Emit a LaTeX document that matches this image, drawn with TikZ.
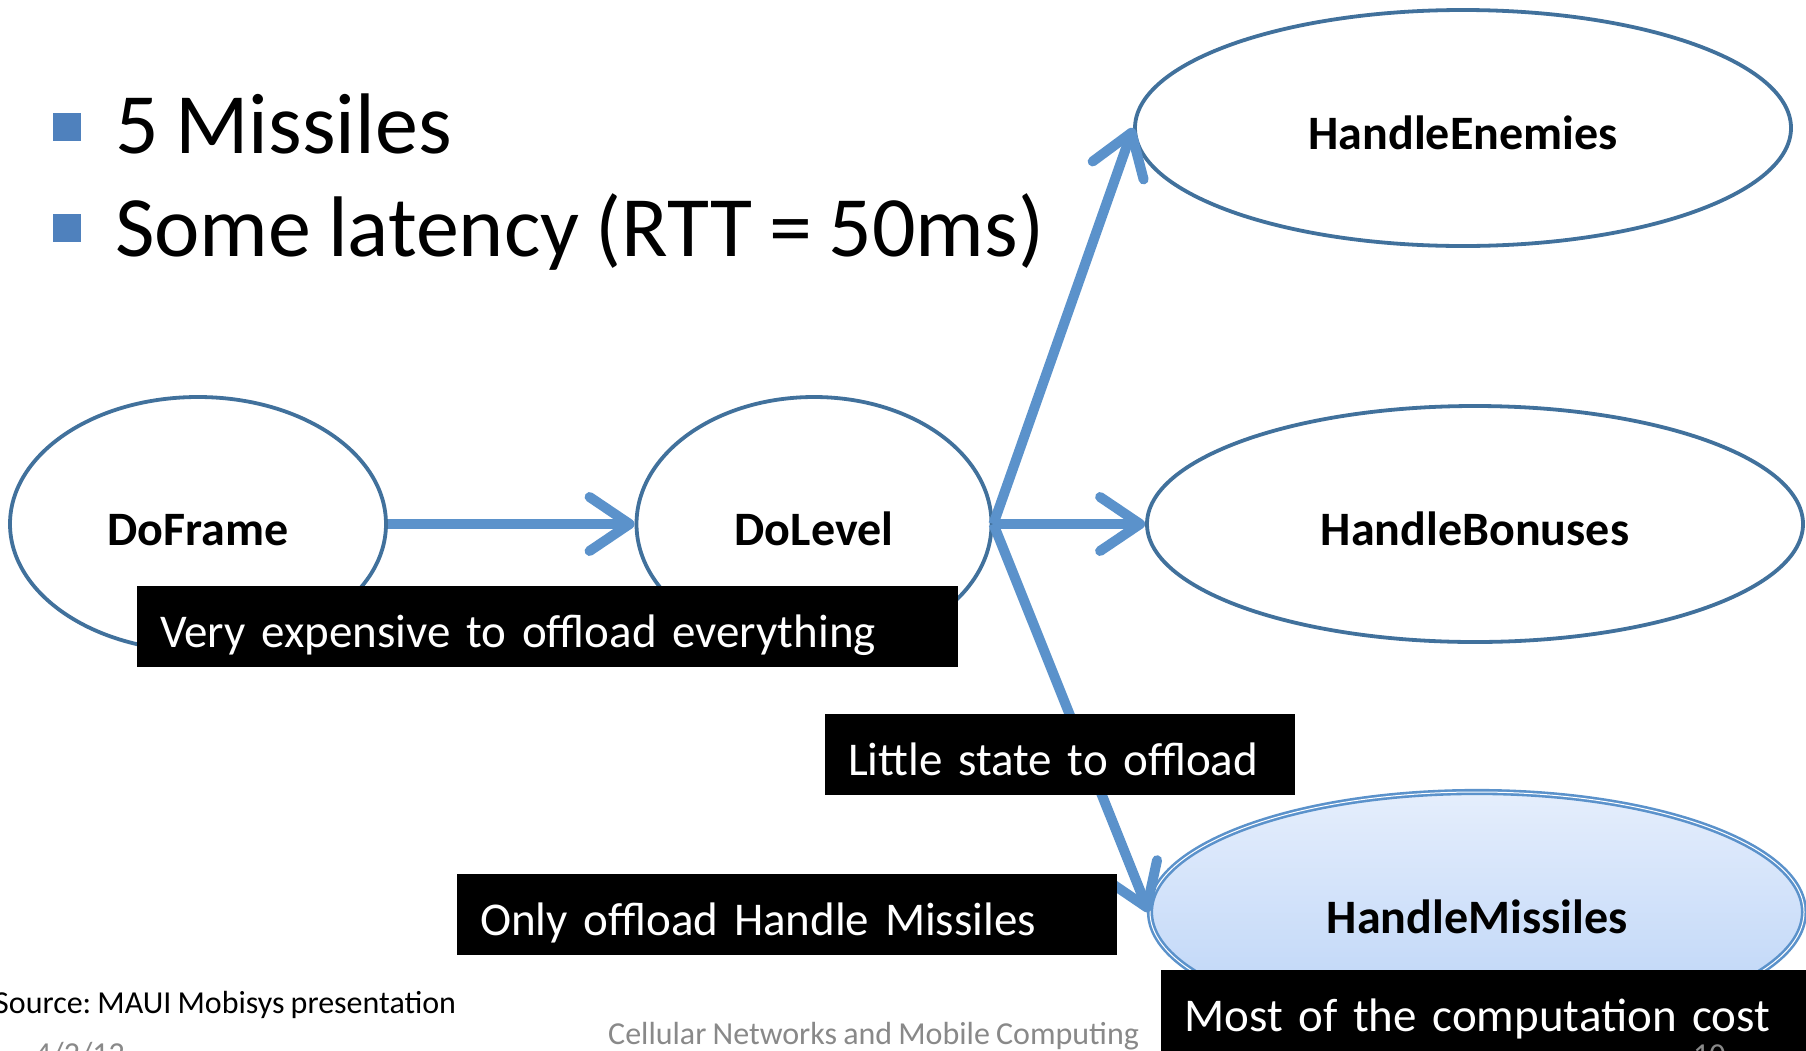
\documentclass[tikz,border=0pt]{standalone}
\usepackage{fontspec}
\setmainfont{Carlito}[WordSpace=0.85]
\usetikzlibrary{shapes.geometric,arrows.meta}
\definecolor{ellblue}{RGB}{65,113,156}
\definecolor{arrowblue}{RGB}{91,146,203}
\definecolor{bulletblue}{RGB}{79,129,189}
\definecolor{footgrey}{RGB}{137,137,137}
\definecolor{hmtop}{RGB}{229,238,252}
\definecolor{hmbot}{RGB}{186,211,247}
\newcommand{\ellabel}[1]{\raisebox{-21pt}[0pt][0pt]{#1}}
\begin{document}
\frenchspacing
\begin{tikzpicture}[x=1pt,y=-1pt,
  ell/.style={ellipse, draw=ellblue, line width=3.8pt, inner sep=0pt, font=\fontsize{48}{56}\selectfont\bfseries},
  arr/.style={draw=arrowblue, line width=10pt, -{Straight Barb[length=40pt,width=54pt,round]}},
  blackbox/.style={fill=black, text=white, anchor=north west, align=left, inner xsep=23pt, inner ysep=0pt,
    minimum height=81pt, text height=45pt, text depth=4pt, font=\fontsize{47}{56}\selectfont},
  bulletsq/.style={fill=bulletblue, draw=none, minimum size=28pt, inner sep=0pt},
  bullettext/.style={anchor=base west, inner sep=0pt, font=\fontsize{86}{100}\selectfont},
  foot/.style={anchor=base west, inner sep=0pt, font=\fontsize{32}{38}\selectfont}
]
\useasboundingbox (0,0) rectangle (1806,1050);
\clip (0,0) rectangle (1806,1050);
\fill[white] (0,0) rectangle (1806,1050);

% bullets
\node[bulletsq] (b1) at (67,127) {};
\node[bullettext] (t1) at (115,153) {5 Missiles};
\node[bulletsq] (b2) at (67,228) {};
\node[bullettext] (t2) at (115,256) {Some latency (RTT = 50ms)};

% ellipses
\node[ell, minimum width=376pt, minimum height=254pt] (doframe) at (198,524) {\ellabel{DoFrame}};
\node[ell, minimum width=355pt, minimum height=254pt] (dolevel) at (814,524) {\ellabel{DoLevel}};
\node[ell, minimum width=656pt, minimum height=236pt] (he) at (1463,128) {\ellabel{HandleEnemies}};
\node[ell, minimum width=656pt, minimum height=236pt] (hb) at (1475,524) {\ellabel{HandleBonuses}};
\node[ell, draw=arrowblue, line width=2.6pt, double=white, double distance=1pt,
      top color=hmtop, bottom color=hmbot,
      minimum width=654pt, minimum height=240pt] (hm) at (1477,912) {\ellabel{HandleMissiles}};

% arrows
\draw[arr] (doframe.east) -- (dolevel.west);
\draw[arr] (dolevel.east) -- (he.west);
\draw[arr] (dolevel.east) -- (hb.west);
\draw[arr] (dolevel.east) -- (hm.west);

% black boxes
\node[blackbox, text width=775pt] (bx1) at (137,586) {Very expensive to offload everything};
\node[blackbox, text width=424pt] (bx2) at (825,714) {Little state to offload};
\node[blackbox, text width=614pt] (bx3) at (457,874) {Only offload Handle Missiles};
\node[blackbox, text width=603pt] (bx4) at (1161,970) {Most of the computation cost};

% footer
\node[foot] (src) at (-6,1013) {Source: MAUI Mobisys presentation};
\node[foot, text=footgrey] (course) at (608,1044) {Cellular Networks and Mobile Computing};
\node[foot, text=footgrey] (date) at (35,1064) {4/2/12};
\node[foot, text=footgrey] (pg) at (1693,1065) {10};
\end{tikzpicture}
\end{document}
